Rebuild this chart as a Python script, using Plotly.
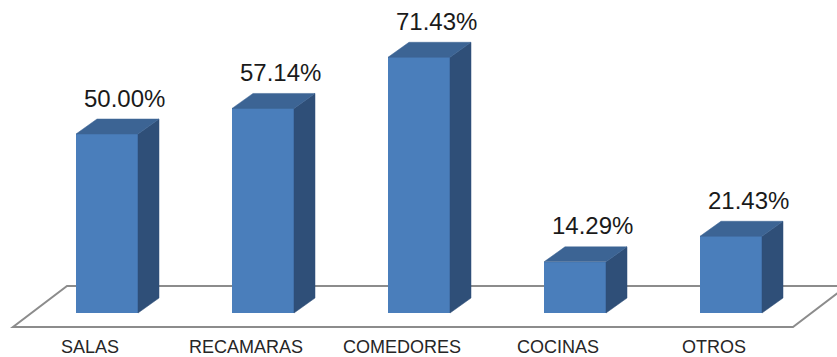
import plotly.graph_objects as go

# Categories and their shares (%)
categories = ["SALAS", "RECAMARAS", "COMEDORES", "COCINAS", "OTROS"]
values = [50.00, 57.14, 71.43, 14.29, 21.43]

W, H = 837, 357

# axis scale: category index on x, percent on y
X0_PX, X_STEP_PX = 107, 156        # pixel of first category centre, spacing
Y0_PX, Y_PER_PCT = 313, 3.58       # pixel of 0 %, pixels per percent
x_range = [-X0_PX / X_STEP_PX, (W - X0_PX) / X_STEP_PX]
y_range = [(Y0_PX - H) / Y_PER_PCT, Y0_PX / Y_PER_PCT]

bar_w = 62 / X_STEP_PX             # front-face width
dx = 21 / X_STEP_PX                # bar depth (x part)
dy = 15 / Y_PER_PCT                # bar depth (y part)

FRONT = "#4a7ebb"
TOP = "#3c6494"
SIDE = "#2f4f78"

xs = list(range(len(categories)))

fig = go.Figure()

# front faces
fig.add_trace(go.Bar(
    x=xs, y=values, width=bar_w,
    marker=dict(color=FRONT, line=dict(width=0)),
    hoverinfo="skip", showlegend=False,
))

# side and top faces
for x, v in zip(xs, values):
    r = x + bar_w / 2
    l = x - bar_w / 2
    fig.add_trace(go.Scatter(
        x=[r, r + dx, r + dx, r, r], y=[0, dy, v + dy, v, 0],
        mode="lines", fill="toself", fillcolor=SIDE,
        line=dict(color=SIDE, width=0.5),
        hoverinfo="skip", showlegend=False,
    ))
    fig.add_trace(go.Scatter(
        x=[l, r, r + dx, l + dx, l], y=[v, v, v + dy, v + dy, v],
        mode="lines", fill="toself", fillcolor=TOP,
        line=dict(color=TOP, width=0.5),
        hoverinfo="skip", showlegend=False,
    ))

# floor plane
fl_y = -14 / Y_PER_PCT
fl_l = (13 - X0_PX) / X_STEP_PX
fl_r = (793 - X0_PX) / X_STEP_PX
fl_dx = 54 / X_STEP_PX
fl_dy = 41 / Y_PER_PCT
fig.add_shape(
    type="path", xref="x", yref="y", layer="below",
    path=(f"M {fl_l},{fl_y} L {fl_r},{fl_y} L {fl_r + fl_dx},{fl_y + fl_dy} "
          f"L {fl_l + fl_dx},{fl_y + fl_dy} Z"),
    fillcolor="white", line=dict(color="#8c8c8c", width=2),
)

# value labels
for x, v in zip(xs, values):
    fig.add_annotation(
        x=x + 0.115, y=v + dy, xref="x", yref="y",
        text=f"{v:.2f}%", showarrow=False,
        yanchor="middle", xanchor="center", yshift=21,
        font=dict(family="Liberation Sans, Arial", size=24, color="#1a1a1a"),
    )

# category labels along the floor edge
for x, c in zip(xs, categories):
    fig.add_annotation(
        x=x - 0.106, y=fl_y, xref="x", yref="y",
        text=c, showarrow=False,
        yanchor="middle", xanchor="center", yshift=-20,
        font=dict(family="Liberation Sans, Arial", size=18, color="#262626"),
    )

fig.update_xaxes(range=x_range, visible=False, showgrid=False, zeroline=False)
fig.update_yaxes(range=y_range, visible=False, showgrid=False, zeroline=False)
fig.update_layout(
    width=W, height=H,
    margin=dict(l=0, r=0, t=0, b=0),
    paper_bgcolor="white", plot_bgcolor="white",
    bargap=0,
)

fig.write_html("out.html")
